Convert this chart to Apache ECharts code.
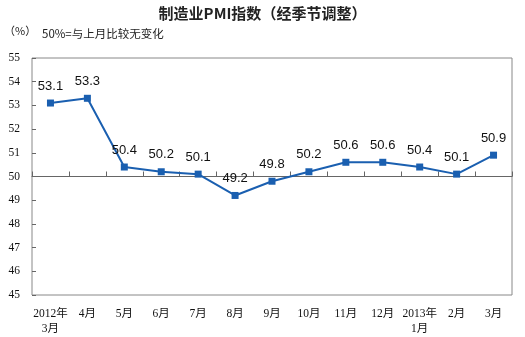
<!DOCTYPE html>
<html><head><meta charset="utf-8">
<script src="https://cdn.jsdelivr.net/npm/echarts@6/dist/echarts.min.js"></script>
<style>html,body{margin:0;padding:0;background:#fff}#c{width:525px;height:337px}</style>
</head><body><div id="c"></div>
<script>
const categories = ['2012年\n3月','4月','5月','6月','7月','8月','9月','10月','11月','12月','2013年\n1月','2月','3月'];
const pmiValues = [53.1, 53.3, 50.4, 50.2, 50.1, 49.2, 49.8, 50.2, 50.6, 50.6, 50.4, 50.1, 50.9];
const yTicks = [45, 46, 47, 48, 49, 50, 51, 52, 53, 54, 55];
const titleText = '制造业PMI指数（经季节调整）';
const unitText = '（%）';
const noteText = '50%=与上月比较无变化';

const serif = '"Liberation Serif","Noto Sans CJK SC",serif';
const chart = echarts.init(document.getElementById('c'), null, {renderer:'canvas'});
chart.setOption({
  animation: false,
  title: {text: titleText, left: 'center', top: 1, textStyle: {fontSize: 15, fontWeight: 'bold', color: '#222', fontFamily: '"Noto Sans CJK SC",sans-serif'}},
  graphic: [
    {type: 'text', left: 4, top: 25, style: {text: unitText, font: '11px "Noto Sans CJK SC"', fill: '#222'}},
    {type: 'text', left: 42, top: 28, style: {text: noteText, font: '11.5px "Noto Sans CJK SC"', fill: '#222'}}
  ],
  grid: {left: 32, right: 13, top: 58, bottom: 42, show: true, borderColor: '#888', borderWidth: 1},
  xAxis: [
    {type: 'category', data: categories, boundaryGap: true,
     axisLine: {show: false}, axisTick: {show: false},
     axisLabel: {interval: 0, fontSize: 11.5, color: '#111', fontFamily: serif, margin: 11, lineHeight: 15}},
    {type: 'category', data: categories, boundaryGap: true, position: 'bottom', offset: -118.5,
     axisLine: {show: true, lineStyle: {color: '#666', width: 1}},
     axisTick: {show: true, inside: true, length: 5, interval: 0, lineStyle: {color: '#666'}},
     axisLabel: {show: false}}
  ],
  yAxis: {type: 'value', min: yTicks[0], max: yTicks[yTicks.length-1], interval: 1,
    axisLine: {show: false}, axisTick: {show: true, inside: true, length: 4, lineStyle: {color: '#666'}}, splitLine: {show: false},
    axisLabel: {fontSize: 11.5, color: '#111', fontFamily: serif, margin: 12}},
  series: [{
    type: 'line', data: pmiValues, xAxisIndex: 0,
    symbol: 'rect', symbolSize: 7,
    lineStyle: {color: '#1a5fb0', width: 2},
    itemStyle: {color: '#1a5fb0'},
    label: {show: true, position: 'top', distance: 7, fontSize: 13, color: '#111', fontFamily: '"Liberation Sans",Arial,sans-serif',
      formatter: p => p.value.toFixed(1)}
  }]
});
</script></body></html>
